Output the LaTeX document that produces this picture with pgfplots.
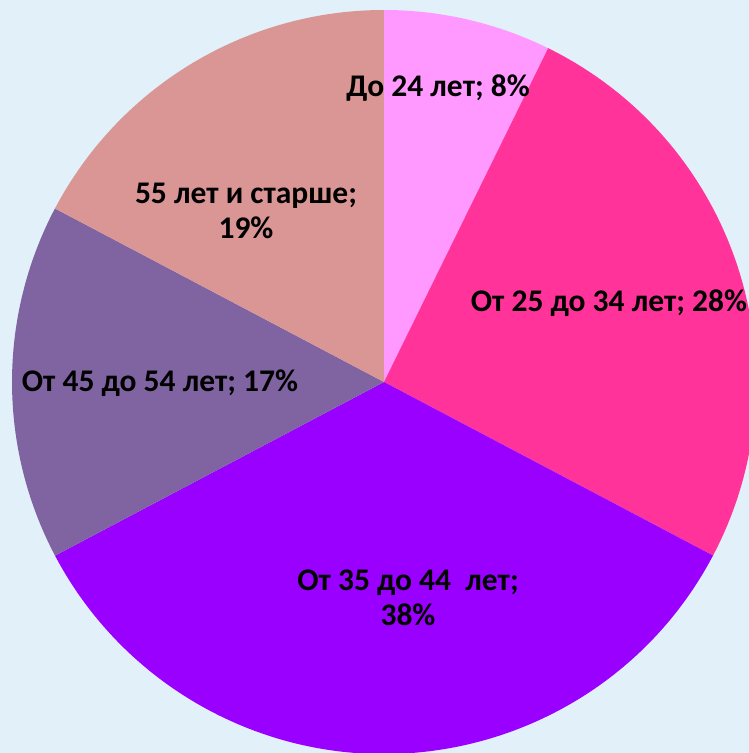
\documentclass[border=0pt]{standalone}
\usepackage{pgfplots}
\usepackage{pgfplotstable}
\pgfplotsset{compat=1.18}
\usepackage{fontspec}
\setmainfont{Carlito}
\definecolor{bgc}{HTML}{E1F0F9}
\definecolor{cA}{HTML}{FF99FF}
\definecolor{cB}{HTML}{FF3399}
\definecolor{cC}{HTML}{9900FF}
\definecolor{cD}{HTML}{8064A2}
\definecolor{cE}{HTML}{D99694}
\pgfplotstableread{
value color
8  cA
28 cB
38 cC
17 cD
19 cE
}\piedata
\begin{document}
\begin{tikzpicture}
\begin{axis}[scale only axis, width=749pt, height=753pt,
  xmin=0, xmax=749, ymin=0, ymax=753, hide axis, clip=true]
\fill[bgc] (axis cs:0,0) rectangle (axis cs:749,753);
% total of all values
\def\pietotal{0}
\pgfplotsforeachungrouped \i in {0,...,4}{%
  \pgfplotstablegetelem{\i}{value}\of\piedata
  \pgfmathsetmacro\pietotal{\pietotal+\pgfplotsretval}%
}
\def\startangle{90}
\pgfplotsforeachungrouped \i in {0,...,4}{%
  \pgfplotstablegetelem{\i}{value}\of\piedata \let\v\pgfplotsretval
  \pgfplotstablegetelem{\i}{color}\of\piedata \let\c\pgfplotsretval
  \pgfmathsetmacro\endangle{\startangle-\v/\pietotal*360}%
  \edef\temp{\noexpand\fill[\c] (axis cs:384,371) -- ++(\startangle:372pt)
    arc[start angle=\startangle, end angle=\endangle, radius=372pt] -- cycle;}%
  \temp
  \global\let\startangle\endangle
}
\begin{scope}[every node/.style={font=\fontsize{31.5}{35}\selectfont\bfseries, text=black, align=center, inner sep=0pt}]
\node at (axis cs:438,665) {До 24 лет; 8\%};
\node at (axis cs:609,450) {От 25 до 34 лет; 28\%};
\node at (axis cs:408,155) {От 35 до 44~~лет;\\38\%};
\node at (axis cs:160,370) {От 45 до 54 лет; 17\%};
\node at (axis cs:246,542) {55 лет и старше;\\19\%};
\end{scope}
\end{axis}
\pgfresetboundingbox
\path[use as bounding box] (0,0) rectangle (749pt,753pt);
\end{tikzpicture}
\end{document}
